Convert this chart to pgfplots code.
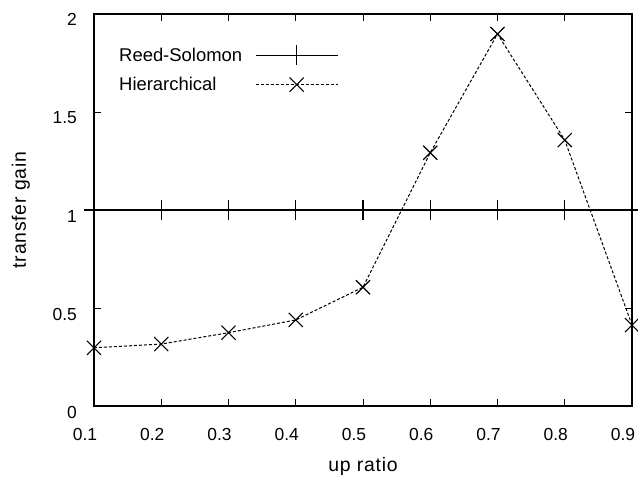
\documentclass[border=0pt]{standalone}
\usepackage{fontspec}
\setmainfont{Liberation Sans}
\usepackage{pgfplots}
\pgfplotsset{compat=1.18}

% long legend sample with the mark in the middle
\pgfplotsset{legend image code/.code={\draw[#1,mark repeat=2,mark phase=2]
    plot coordinates {(0bp,0bp) (41bp,0bp) (82bp,0bp)};}}

\pgfplotstableread{
x    rs   hier
0.1  1    0.297
0.2  1    0.316
0.3  1    0.374
0.4  1    0.439
0.5  1    0.606
0.6  1    1.292
0.7  1    1.898
0.8  1    1.357
0.9  1    0.413
}\gaindata

\begin{document}
\begin{tikzpicture}
\begin{axis}[
  scale only axis,
  width=538bp, height=392bp,
  xmin=0.1, xmax=0.9, ymin=0, ymax=2,
  xtick={0.1,0.2,...,0.9},
  ytick={0,0.5,1,1.5,2},
  xticklabels={0.1,0.2,0.3,0.4,0.5,0.6,0.7,0.8,0.9},
  yticklabels={0,0.5,1,1.5,2},
  tick align=inside,
  major tick length=7bp,
  tick style={black, line width=0.9bp},
  axis line style={black, line width=1.3bp},
  clip=false,
  /pgf/number format/assume math mode=true,
  tick label style={font=\fontsize{17.5}{20}\selectfont, inner sep=0pt},
  xticklabel style={anchor=base, xshift=-9bp, yshift=-34bp},
  yticklabel style={anchor=base east, xshift=-17bp, yshift=-12bp},
  label style={font=\fontsize{19.5}{22}\selectfont\addfontfeature{LetterSpace=4}},
  xlabel={up ratio},
  ylabel={transfer gain},
  xlabel style={at={(axis description cs:0.5,-0.153)}, anchor=center},
  ylabel style={at={(axis description cs:-0.136,0.5)}, anchor=center},
  legend plot pos=right,
  legend cell align=left,
  legend style={draw=none, fill=none, font=\fontsize{18.5}{21}\selectfont,
    at={(rel axis cs:0,1)}, anchor=north west, xshift=24bp, yshift=-31bp,
    row sep=11bp, column sep=12bp, inner sep=0pt,
    nodes={inner sep=1bp}},
]
\addplot[black, line width=1.1bp, mark=+, mark size=10bp,
  mark options={solid, line width=1.1bp}]
  table[x=x, y=rs] {\gaindata};
\addlegendentry{Reed-Solomon}
\addplot[black, line width=1bp, dash pattern=on 3bp off 2bp,
  mark=x, mark size=10bp, mark options={solid, line width=1.1bp}]
  table[x=x, y=hier] {\gaindata};
\addlegendentry{Hierarchical}
\coordinate (bl) at (rel axis cs:0,0);
\coordinate (tr) at (rel axis cs:1,1);
\end{axis}
\pgfresetboundingbox
\path[use as bounding box] ([shift={(-94bp,-72bp)}]bl) rectangle ([shift={(6bp,14bp)}]tr);
\end{tikzpicture}
\end{document}
